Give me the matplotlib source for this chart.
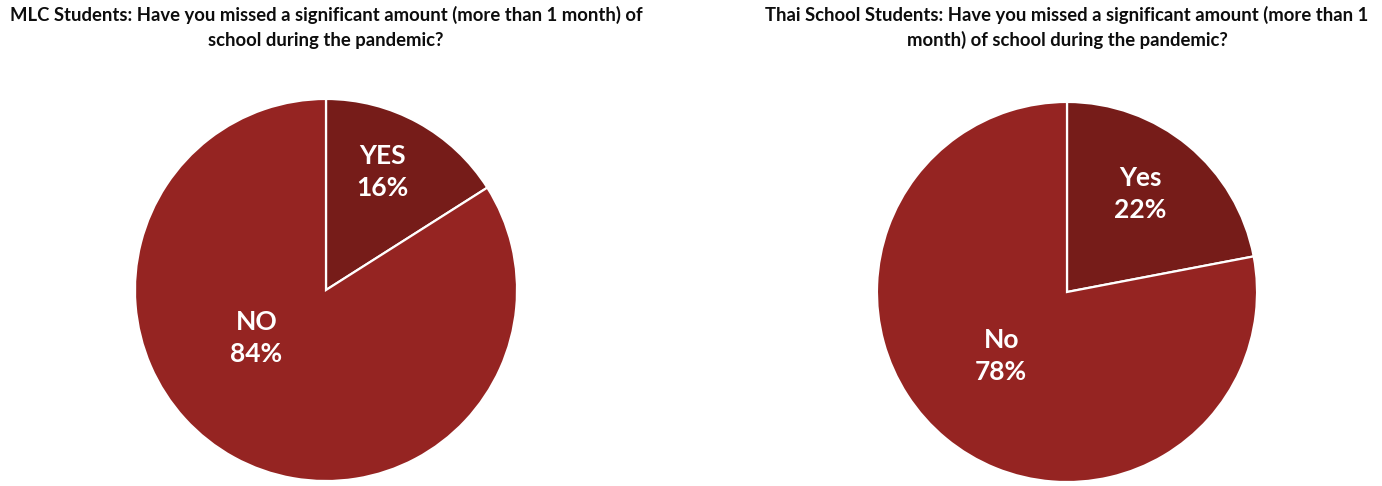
import matplotlib
matplotlib.use("Agg")
import matplotlib.pyplot as plt

# Survey results
categories_mlc = ["YES", "NO"]
values_mlc = [16, 84]
categories_thai = ["Yes", "No"]
values_thai = [22, 78]

title_mlc = ["MLC Students: Have you missed a significant amount (more than 1 month) of",
             "school during the pandemic?"]
title_thai = ["Thai School Students: Have you missed a significant amount (more than 1",
              "month) of school during the pandemic?"]

colors = ["#761c19", "#952422"]

W, H = 1382, 486
plt.rcParams["font.family"] = ["Lato", "DejaVu Sans"]
fig = plt.figure(figsize=(W / 100, H / 100), dpi=100)
fig.patch.set_facecolor("white")


def draw_pie(cx, cy, r, cats, vals, title_lines, label_offsets):
    ax = fig.add_axes([(cx - r) / W, (H - cy - r) / H, 2 * r / W, 2 * r / H])
    wedges, _ = ax.pie(vals, colors=colors, startangle=90, counterclock=False,
                       radius=1.0,
                       wedgeprops=dict(edgecolor="white", linewidth=1.6))
    ax.set_xlim(-1.005, 1.005)
    ax.set_ylim(-1.005, 1.005)
    ax.set_aspect("equal")
    ax.axis("off")
    for cat, val, (dx, dy) in zip(cats, vals, label_offsets):
        ax.text(dx, dy, f"{cat}\n{val}%", ha="center", va="center",
                color="white", fontsize=19, fontweight="bold",
                linespacing=1.4)
    for i, line in enumerate(title_lines):
        fig.text(cx / W, 1 - (21 + 25 * i) / H, line, ha="center",
                 va="baseline", fontsize=13.3, fontweight="bold",
                 color="#0d0d0d")


draw_pie(326, 290, 192, categories_mlc, values_mlc, title_mlc,
         [(0.297, 0.617), (-0.365, -0.253)])
draw_pie(1067, 292, 191, categories_thai, values_thai, title_thai,
         [(0.387, 0.518), (-0.346, -0.338)])

fig.savefig("out.png", dpi=100, facecolor="white")
